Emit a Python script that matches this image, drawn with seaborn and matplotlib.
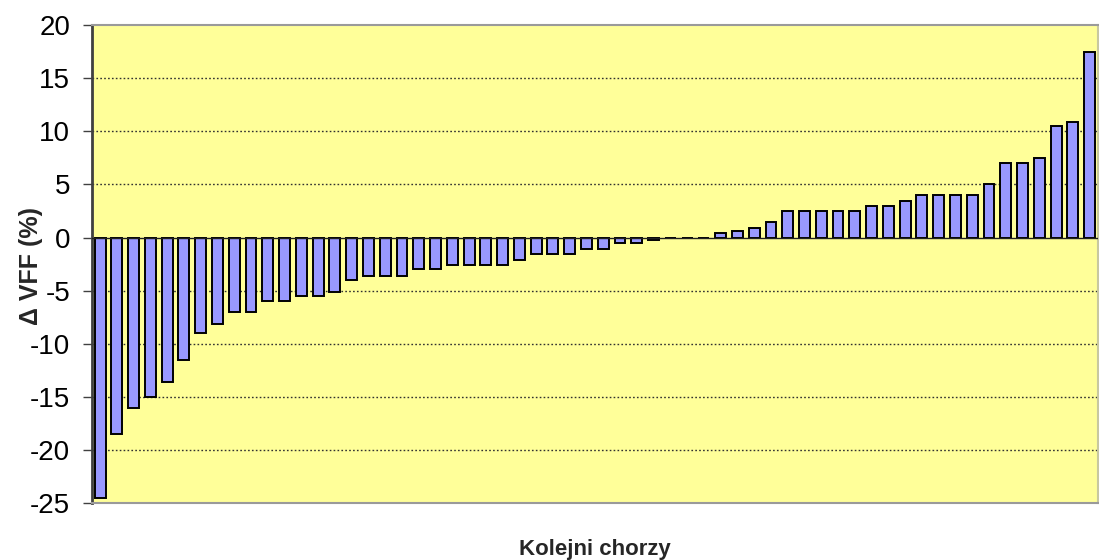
import matplotlib
matplotlib.use("Agg")
import matplotlib.pyplot as plt
import seaborn as sns
import pandas as pd
import numpy as np

# Data, one bar per patient, sorted
patients = list(range(1, 61))
delta_vff = [
    -24.5, -18.5, -16.0, -15.0, -13.6, -11.5, -9.0, -8.1, -7.0, -7.0,
    -6.0, -6.0, -5.5, -5.5, -5.1, -4.0, -3.6, -3.6, -3.6, -3.0,
    -3.0, -2.6, -2.6, -2.6, -2.6, -2.1, -1.5, -1.5, -1.5, -1.1,
    -1.1, -0.5, -0.5, -0.2, 0.0, 0.0, 0.0, 0.4, 0.6, 0.9,
    1.5, 2.5, 2.5, 2.5, 2.5, 2.5, 3.0, 3.0, 3.4, 4.0,
    4.0, 4.0, 4.0, 5.0, 7.0, 7.0, 7.5, 10.5, 10.9, 17.5,
]
y_ticks = [20, 15, 10, 5, 0, -5, -10, -15, -20, -25]
x_title = "Kolejni chorzy"
y_title = "\u0394 VFF (%)"

sns.set_theme(style="white")
plt.rcParams["font.family"] = ["Liberation Sans", "DejaVu Sans"]

df = pd.DataFrame({"patient": patients, "dvff": delta_vff})

fig = plt.figure(figsize=(10.99, 5.60), dpi=100)
W, H = 1099, 560
ax = fig.add_axes([91.7 / W, 1 - 503.3 / H, (1098 - 91.7) / W, (503.3 - 25) / H])
ax.set_facecolor("#FFFF99")
ax.set_axisbelow(True)

sns.barplot(data=df, x="patient", y="dvff", color="#9999FF", saturation=1,
            edgecolor="black", linewidth=1.4, width=0.65, ax=ax, zorder=3)

ax.set_xlim(-0.5, len(patients) - 0.5)
ax.set_ylim(-25, 20)
ax.set_yticks(y_ticks)
ax.set_yticklabels([str(t) for t in y_ticks], fontsize=20, color="black")
ax.set_xticks([])
ax.set_xlabel("")
ax.set_ylabel("")

# dotted gridlines
for t in y_ticks:
    if t in (20, -25, 0):
        continue
    ax.axhline(t, color="#303030", lw=1.0, ls=(0, (1.2, 1.6)), zorder=1)
ax.axhline(0, color="#202020", lw=1.0, zorder=4)

ax.tick_params(axis="y", which="major", direction="out", length=6.5, width=1,
               color="#404040", pad=9, left=True)

for side in ("top", "right", "bottom"):
    ax.spines[side].set_visible(True)
    ax.spines[side].set_color("#9A9A9A")
    ax.spines[side].set_linewidth(1.5)
ax.spines["right"].set_color("#C8C8A0")
ax.spines["left"].set_color("#404040")
ax.spines["left"].set_linewidth(2)

fig.text(595 / W, 1 - 555 / H, x_title, ha="center", va="baseline",
         fontsize=16, fontweight="bold")
fig.text(31 / W, 1 - 266 / H, y_title, ha="center", va="center",
         rotation=90, fontsize=18, fontweight="bold")

fig.savefig("out.png", dpi=100, facecolor="white")
